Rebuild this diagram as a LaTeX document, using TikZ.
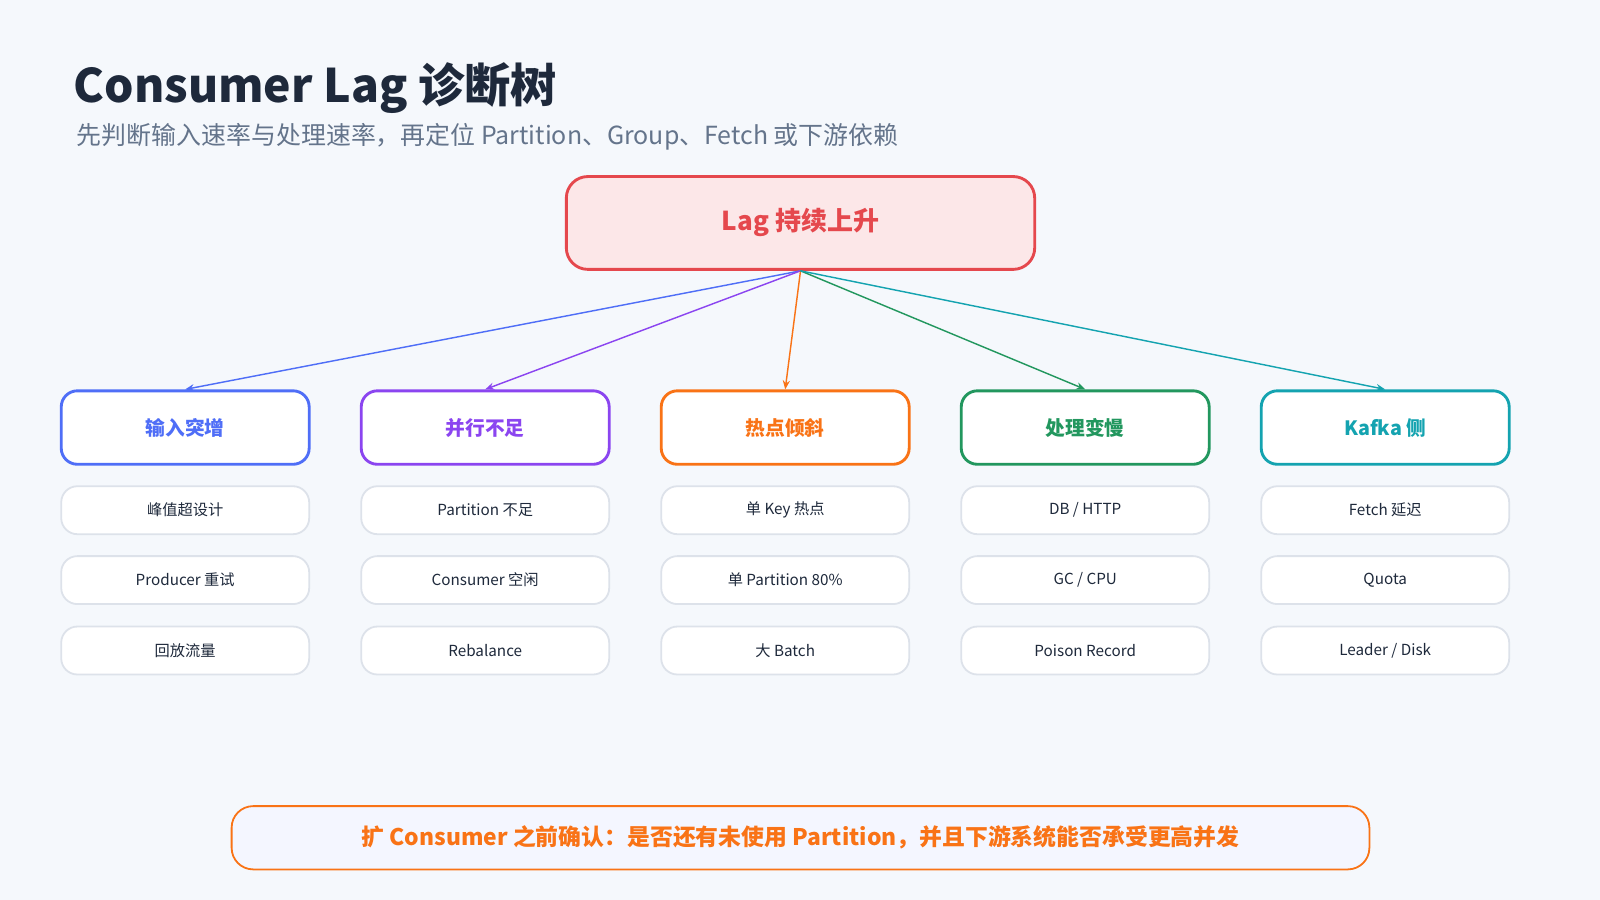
\documentclass[tikz,border=0pt]{standalone}
\usepackage{fontspec}
\setmainfont{Noto Sans CJK SC}
\usetikzlibrary{arrows.meta}
\definecolor{bg}{HTML}{F5F8FC}
\definecolor{ttl}{HTML}{1E293B}
\definecolor{sub}{HTML}{64748B}
\definecolor{cred}{HTML}{E5484D}
\definecolor{cblue}{HTML}{4F6EF7}
\definecolor{cpur}{HTML}{8B45F0}
\definecolor{cora}{HTML}{F97316}
\definecolor{cgre}{HTML}{22975E}
\definecolor{ctea}{HTML}{14A3B0}
\definecolor{leafb}{HTML}{DDE2EA}
\begin{document}
\begin{tikzpicture}[x=0.02cm,y=-0.02cm,
 cat/.style={draw=#1,line width=1.6pt,fill=white,rounded corners=9pt,minimum width=243*0.02cm,minimum height=72*0.02cm,text=#1,font=\fontsize{11}{13}\selectfont\bfseries},
 leaf/.style={draw=leafb,line width=1pt,fill=white,rounded corners=9pt,minimum width=243*0.02cm,minimum height=47*0.02cm,text=ttl,font=\fontsize{8.5}{10}\selectfont},
 arr/.style={draw=#1,line width=0.8pt,-{Stealth[length=5pt,width=4pt]}}]
\fill[bg] (0,0) rectangle (1568,882);
\useasboundingbox (0,0) rectangle (1568,882);
\node[anchor=base west,text=ttl,font=\fontsize{25.8}{30}\selectfont\bfseries,inner sep=0] (t) at (72,100) {Consumer Lag 诊断树};
\node[anchor=base west,text=sub,font=\fontsize{13.9}{16}\selectfont,inner sep=0] (s) at (75,142) {先判断输入速率与处理速率，再定位 Partition、Group、Fetch 或下游依赖};
\node[draw=cred,line width=1.6pt,fill=cred!13,rounded corners=12pt,minimum width=459*0.02cm,minimum height=91*0.02cm,text=cred,font=\fontsize{14.5}{17}\selectfont\bfseries] (r) at (784.5,218.5) {\raisebox{-2pt}{Lag 持续上升}};
\foreach \i/\x/\c/\t/\a/\b/\d in {1/181.5/cblue/输入突增/峰值超设计/Producer 重试/回放流量,
 2/475.5/cpur/并行不足/Partition 不足/Consumer 空闲/Rebalance,
 3/769.5/cora/热点倾斜/单 Key 热点/单 Partition 80\%/大 Batch,
 4/1063.5/cgre/处理变慢/{DB / HTTP}/{GC / CPU}/Poison Record,
 5/1357.5/ctea/Kafka 侧/Fetch 延迟/Quota/{Leader / Disk}}{
 \node[cat=\c] (c\i) at (\x,419) {\raisebox{-2pt}{\t}};
 \node[leaf] (l\i a) at (\x,500) {\raisebox{-2pt}{\a}};
 \node[leaf] (l\i b) at (\x,568.5) {\raisebox{-1pt}{\b}};
 \node[leaf] (l\i c) at (\x,637.5) {\raisebox{-1pt}{\d}};
 \draw[arr=\c] (r.south) -- (c\i.north);
}
\node[draw=cora,line width=1pt,fill=cblue!6,rounded corners=12pt,minimum width=1115*0.02cm,minimum height=62*0.02cm,text=cora,font=\fontsize{12.75}{15}\selectfont\bfseries] (n) at (784.5,821) {\raisebox{-2pt}{扩 Consumer 之前确认：是否还有未使用 Partition，并且下游系统能否承受更高并发}};
\end{tikzpicture}
\end{document}
